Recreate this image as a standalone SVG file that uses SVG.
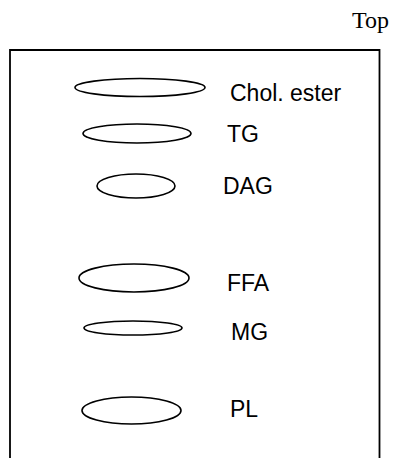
<svg xmlns="http://www.w3.org/2000/svg" width="396" height="458" viewBox="0 0 396 458">
  <style>
    .spot { fill: none; stroke: #000; stroke-width: 1.6; }
    .lbl { font-family: "Liberation Sans", Arial, sans-serif; font-size: 23px; fill: #000; }
    .top { font-family: "Liberation Serif", "Times New Roman", serif; font-size: 24px; fill: #000; }
    .plate { fill: none; stroke: #000; stroke-width: 1.8; }
  </style>
  <rect width="396" height="458" fill="#fff"/>
  <text class="top" x="352" y="27.5">Top</text>
  <!-- TLC plate, open at the bottom edge -->
  <path class="plate" d="M10,458 V50 H379.5 V458"/>
  <g id="chol-ester">
    <ellipse class="spot" cx="140" cy="87.5" rx="65" ry="9"/>
    <text class="lbl" x="230" y="101">Chol. ester</text>
  </g>
  <g id="tg">
    <ellipse class="spot" cx="137" cy="133.5" rx="54" ry="9.5"/>
    <text class="lbl" x="227" y="142">TG</text>
  </g>
  <g id="dag">
    <ellipse class="spot" cx="136" cy="186" rx="39" ry="12"/>
    <text class="lbl" x="223" y="193.5">DAG</text>
  </g>
  <g id="ffa">
    <ellipse class="spot" cx="134" cy="278" rx="55" ry="14"/>
    <text class="lbl" x="227" y="290.5">FFA</text>
  </g>
  <g id="mg">
    <ellipse class="spot" cx="133" cy="328" rx="49" ry="7"/>
    <text class="lbl" x="231" y="339.5">MG</text>
  </g>
  <g id="pl">
    <ellipse class="spot" cx="131.5" cy="410.5" rx="49.5" ry="13.5"/>
    <text class="lbl" x="230" y="417">PL</text>
  </g>
  <g id="connectors"/>
</svg>
